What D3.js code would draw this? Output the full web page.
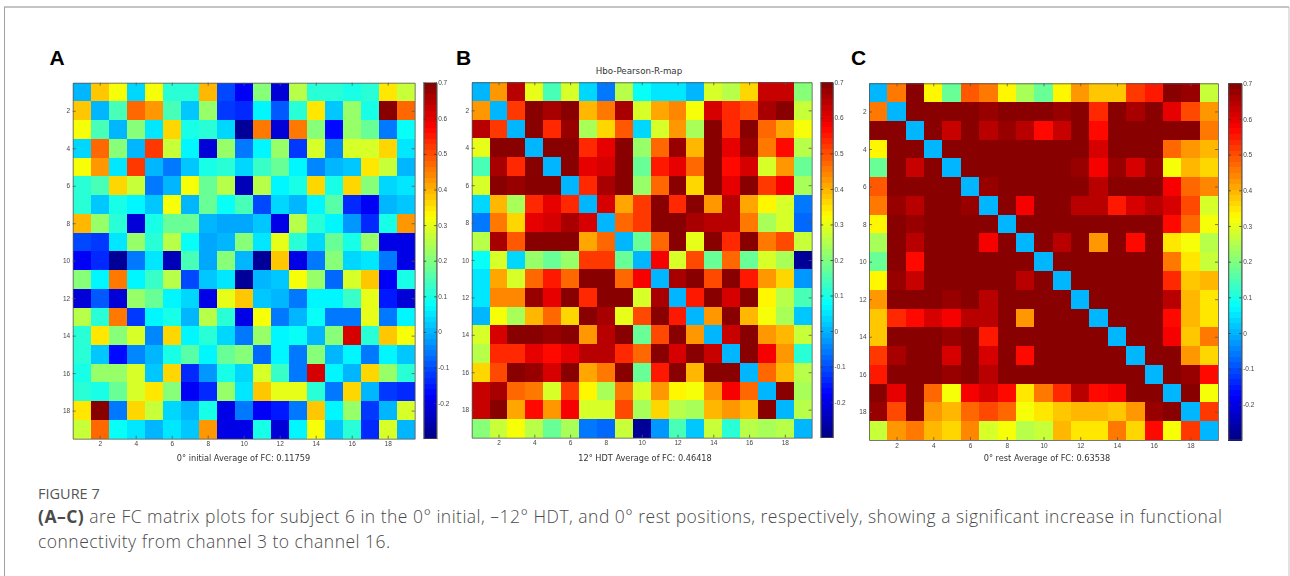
<!DOCTYPE html>
<html>
<head>
<meta charset="utf-8">
<title>FC matrix plots</title>
<script src="https://cdn.jsdelivr.net/npm/d3@7"></script>
<style>
  html, body { margin: 0; background: #fff; }
  svg { display: block; }
  .tick text { font-family: "Liberation Sans", sans-serif; font-size: 6.5px; fill: #444; }
  .tick line, .domain { stroke: #555; stroke-width: 0.8; }
  .cbticks .tick line { stroke: #333; }
  .plotlabel { font-family: "DejaVu Sans", sans-serif; font-size: 8.2px; fill: #333; text-anchor: middle; }
  .letter { font-family: "Liberation Sans", sans-serif; font-weight: bold; font-size: 21px; fill: #000; }
  .caption { font-family: "Open Sans", sans-serif; font-weight: 300; fill: #4a4a4a; }
</style>
</head>
<body>
<svg width="1290" height="576"></svg>
<script>
const ticks = [2, 4, 6, 8, 10, 12, 14, 16, 18];
const cbTicks = [-0.2, -0.1, 0, 0.1, 0.2, 0.3, 0.4, 0.5, 0.6, 0.7];

// values, row 1 at the top
const matrixA = [
  [0,.38,.31,.03,.31,.11,.11,.4,-.11,-.18,.2,-.21,.25,.11,.12,.1,.11,.35,.27],
  [.38,0,.14,.48,.43,.14,.02,.23,-.12,-.14,.06,-.09,.12,.35,.02,.23,.1,.7,.48],
  [.31,.14,0,.2,.05,.36,.1,.11,.04,-.28,.45,-.22,.46,.2,-.16,.22,.17,-.05,.09],
  [.03,.48,.2,0,.52,.27,.07,-.22,.22,-.06,.07,.22,-.12,.28,-.04,.29,.29,.37,.05],
  [.31,.43,.05,.52,0,-.06,.02,.1,.11,.04,.13,.17,.07,-.04,0,.02,.35,.27,0],
  [.11,.14,.36,.27,-.06,0,.31,.18,.26,-.24,.26,.06,.1,.37,.1,.37,.2,.04,.05],
  [.11,.02,.1,.07,.02,.31,0,.17,.08,.14,-.1,.03,0,.07,.16,-.13,-.19,0,.02],
  [.4,.23,.11,-.22,.1,.18,.17,0,-.01,-.01,.02,-.2,.26,.11,.06,-.03,-.13,.1,.42],
  [-.11,-.12,.05,.22,.11,.26,.08,-.01,0,.2,.05,.3,.11,.03,.18,.1,.22,-.2,-.2],
  [-.18,-.14,-.28,-.06,.05,-.24,.14,-.01,.2,0,-.28,.38,-.2,-.06,.2,.03,.05,-.06,-.2],
  [.2,.06,.45,.07,.13,.26,-.1,.02,.05,-.28,0,.02,.32,.23,-.07,.29,.38,-.19,.1],
  [-.21,-.09,-.22,.22,.17,.06,.03,-.2,.3,.38,.02,0,-.06,.07,.07,.13,.3,-.15,-.22],
  [.25,.12,.46,-.12,.07,.1,0,.26,.11,-.2,.32,-.06,0,.08,-.06,-.05,.3,-.05,.06],
  [.11,.35,.2,.28,-.04,.37,.07,.11,.03,-.06,.23,.07,.08,0,.2,.62,.11,.38,.31],
  [.12,.02,-.16,-.04,0,.1,.16,.06,.18,.2,-.07,.07,-.06,.2,0,.06,-.06,.06,.02],
  [.1,.23,.22,.29,.02,.37,-.13,-.03,.1,.03,.29,.13,-.05,.62,.06,0,.37,.22,.12],
  [.11,.1,.17,.29,.35,.2,-.19,-.13,.22,.05,.38,.3,.3,.11,-.06,.37,0,-.12,-.14],
  [.35,.7,-.05,.37,.27,.04,0,.1,-.2,-.06,-.19,-.15,-.05,.38,.06,.22,-.12,0,.28],
  [.27,.48,.09,.05,0,.05,.02,.42,-.2,-.2,.1,-.22,.06,.31,.02,.12,-.14,.28,0]
];

const matrixB = [
  [0,.43,.65,.3,.15,.29,.03,-.05,.25,.08,.05,.05,0,.28,.26,.36,.63,.63,.2],
  [.43,0,.52,.69,.66,.69,.39,.45,.66,.28,.41,.44,.32,.62,.54,.5,.66,.7,.27],
  [.65,.52,0,.69,.54,.68,.24,.36,.49,.03,.29,.43,.24,.69,.54,.69,.47,.41,.32],
  [.3,.69,.69,0,.69,.69,.54,.6,.69,.22,.48,.67,.4,.69,.6,.68,.46,.56,.25],
  [.15,.66,.54,.69,0,.69,.6,.61,.69,.17,.55,.6,.47,.69,.57,.61,.29,.42,.17],
  [.29,.69,.68,.69,.69,0,.54,.66,.69,.23,.47,.69,.36,.69,.6,.69,.52,.58,.24],
  [.03,.39,.24,.54,.6,.54,0,.62,.41,.52,.69,.53,.69,.42,.65,.41,.33,.29,-.06],
  [-.05,.45,.36,.6,.61,.66,.62,0,.48,.52,.69,.69,.66,.64,.64,.46,.24,.29,-.07],
  [.25,.66,.49,.69,.69,.69,.41,.48,0,.18,.47,.69,.3,.69,.54,.69,.46,.5,.27],
  [.08,.28,.03,.22,.17,.23,.52,.52,.18,0,.58,.28,.5,.18,.47,.17,.28,.24,-.28],
  [.05,.41,.29,.48,.55,.47,.69,.69,.47,.58,0,.66,.69,.5,.69,.55,.43,.36,-.02],
  [.05,.44,.44,.67,.6,.69,.53,.69,.69,.28,.66,0,.55,.69,.62,.69,.34,.25,.15],
  [0,.32,.24,.4,.47,.36,.69,.66,.3,.5,.69,.55,0,.43,.69,.4,.32,.24,.02],
  [.28,.62,.69,.69,.68,.69,.42,.64,.69,.18,.5,.69,.43,0,.63,.69,.42,.4,.27],
  [.26,.54,.54,.6,.57,.6,.65,.64,.54,.47,.69,.62,.69,.63,0,.69,.58,.43,.11],
  [.36,.5,.69,.68,.61,.69,.41,.46,.69,.17,.55,.69,.4,.69,.69,0,.48,.39,.26],
  [.63,.66,.47,.46,.29,.52,.33,.24,.46,.28,.43,.34,.32,.42,.58,.48,0,.7,.24],
  [.63,.7,.41,.56,.42,.58,.29,.29,.5,.24,.36,.25,.24,.4,.43,.39,.7,0,.26],
  [.2,.27,.32,.25,.17,.24,-.06,-.07,.27,-.28,-.02,.15,.02,.27,.11,.26,.24,.26,0]
];

const matrixC = [
  [0,.46,.7,.33,.18,.49,.45,.33,.24,.18,.33,.42,.38,.38,.52,.55,.7,.68,.27],
  [.46,0,.7,.7,.7,.7,.68,.7,.7,.7,.68,.7,.53,.7,.66,.7,.6,.5,.42],
  [.7,.7,0,.7,.63,.7,.65,.67,.65,.56,.63,.7,.56,.7,.7,.7,.7,.7,.45],
  [.33,.7,.7,0,.7,.7,.7,.7,.7,.7,.7,.7,.62,.7,.7,.7,.47,.42,.4],
  [.18,.7,.63,.7,0,.7,.7,.7,.7,.7,.7,.67,.58,.68,.62,.68,.31,.4,.37],
  [.49,.7,.7,.7,.7,0,.68,.7,.7,.7,.7,.7,.64,.7,.7,.7,.58,.47,.44],
  [.45,.68,.65,.7,.7,.68,0,.7,.58,.7,.7,.65,.64,.55,.62,.64,.61,.5,.29],
  [.33,.69,.67,.7,.7,.7,.7,0,.7,.7,.7,.7,.7,.7,.7,.7,.56,.47,.32],
  [.24,.69,.65,.7,.7,.7,.58,.7,0,.7,.65,.7,.43,.7,.56,.7,.35,.32,.26],
  [.18,.69,.56,.7,.7,.7,.7,.7,.7,0,.7,.7,.7,.7,.7,.7,.45,.35,.27],
  [.33,.68,.63,.7,.7,.7,.7,.7,.65,.7,0,.7,.7,.7,.7,.7,.53,.38,.4],
  [.42,.7,.7,.7,.67,.7,.65,.7,.7,.7,.7,0,.7,.7,.7,.7,.65,.39,.35],
  [.38,.53,.56,.62,.58,.64,.64,.7,.43,.7,.7,.7,0,.7,.7,.7,.56,.39,.35],
  [.38,.7,.7,.7,.68,.7,.55,.7,.7,.7,.7,.7,.7,0,.7,.7,.59,.38,.46],
  [.52,.66,.7,.7,.62,.7,.62,.7,.56,.7,.7,.7,.7,.7,0,.7,.7,.42,.36],
  [.55,.7,.7,.7,.68,.7,.64,.7,.7,.7,.7,.7,.7,.7,.7,0,.7,.68,.57],
  [.7,.6,.7,.47,.31,.58,.61,.56,.35,.45,.53,.65,.56,.59,.7,.7,0,.69,.32],
  [.68,.5,.7,.42,.4,.47,.5,.47,.32,.35,.38,.39,.39,.38,.42,.68,.69,0,.52],
  [.27,.42,.45,.4,.37,.44,.29,.32,.26,.27,.4,.35,.35,.46,.36,.57,.32,.52,0]
];

const svg = d3.select("svg");

// matlab jet, 64 steps between -0.3 and 0.7
const jetStops = d3.scaleLinear()
  .domain([0, 0.125, 0.375, 0.625, 0.875, 1])
  .range(["#000080", "#0000ff", "#00ffff", "#ffff00", "#ff0000", "#800000"]);
const jet = d3.range(64).map(i => jetStops((i + 0.5) / 64));
const colorScale = d3.scaleQuantize().domain([-0.3, 0.7]).range(jet);

// card outline, it is open at the bottom
svg.append("line").attr("x1", 4).attr("x2", 1289).attr("y1", 7).attr("y2", 7).attr("stroke", "#c4c4c4").attr("stroke-width", 2);
svg.append("line").attr("x1", 4.5).attr("x2", 4.5).attr("y1", 7).attr("y2", 576).attr("stroke", "#a0a0a0");
svg.append("line").attr("x1", 1289).attr("x2", 1289).attr("y1", 7).attr("y2", 576).attr("stroke", "#c4c4c4");

const drawPanel = (p) => {
  const g = svg.append("g").style("filter", "blur(0.35px)");
  const x = d3.scaleLinear().domain([0.5, 19.5]).range([p.left, p.right]);
  const y = d3.scaleLinear().domain([0.5, 19.5]).range([p.top, p.bottom]);

  // cells
  p.matrix.forEach((row, i) => {
    g.append("g").selectAll("rect")
      .data(row)
      .enter().append("rect")
        .attr("x", (d, j) => x(j + 0.5))
        .attr("y", y(i + 0.5))
        .attr("width", (d, j) => x(j + 1.5) - x(j + 0.5))
        .attr("height", y(i + 1.5) - y(i + 0.5))
        .attr("fill", d => colorScale(d))
        .attr("shape-rendering", "crispEdges");
  });

  // box with inward ticks on all four sides
  g.append("g").attr("transform", `translate(0,${p.bottom})`)
    .call(d3.axisBottom(x).tickValues(ticks).tickSizeInner(-3).tickSizeOuter(0).tickPadding(3));
  g.append("g").attr("transform", `translate(0,${p.top})`)
    .call(d3.axisTop(x).tickValues(ticks).tickSizeInner(-3).tickSizeOuter(0).tickFormat(""));
  g.append("g").attr("transform", `translate(${p.left},0)`)
    .call(d3.axisLeft(y).tickValues(ticks).tickSizeInner(-3).tickSizeOuter(0).tickPadding(2.5));
  g.append("g").attr("transform", `translate(${p.right},0)`)
    .call(d3.axisRight(y).tickValues(ticks).tickSizeInner(-3).tickSizeOuter(0).tickFormat(""));

  // colorbar
  const cb = d3.scaleLinear().domain([-0.3, 0.7]).range([p.bottom, p.top]);
  g.append("g").selectAll("rect")
    .data(jet)
    .enter().append("rect")
      .attr("x", p.cbLeft)
      .attr("width", p.cbRight - p.cbLeft)
      .attr("y", (d, i) => cb(-0.3 + (i + 1) / 64))
      .attr("height", (p.bottom - p.top) / 64 + 0.5)
      .attr("fill", d => d)
      .attr("shape-rendering", "crispEdges");
  g.append("g").attr("class", "cbticks").attr("transform", `translate(${p.cbRight},0)`)
    .call(d3.axisRight(cb).tickValues(cbTicks).tickFormat(d => String(d)).tickSizeInner(-2.5).tickSizeOuter(0).tickPadding(1.5));
  g.append("g").attr("class", "cbticks").attr("transform", `translate(${p.cbLeft},0)`)
    .call(d3.axisLeft(cb).tickValues(cbTicks).tickSizeInner(-2.5).tickSizeOuter(0).tickFormat(""));
  g.append("rect")
    .attr("x", p.cbLeft).attr("y", p.top)
    .attr("width", p.cbRight - p.cbLeft).attr("height", p.bottom - p.top)
    .attr("fill", "none").attr("stroke", "#555").attr("stroke-width", 0.6);

  g.append("text").attr("class", "plotlabel")
    .attr("x", p.labelX).attr("y", 460.5)
    .text(p.label);

  svg.append("text").attr("class", "letter")
    .attr("x", p.letterX).attr("y", 65)
    .text(p.letter);
};

drawPanel({ matrix: matrixA, letter: "A", letterX: 49.5, left: 72.7, right: 414.7, top: 82.7, bottom: 438.7,
  cbLeft: 423.7, cbRight: 436.7, labelX: 243.5, label: "0° initial Average of FC: 0.11759" });
drawPanel({ matrix: matrixB, letter: "B", letterX: 456, left: 471.7, right: 811.7, top: 82.3, bottom: 437.7,
  cbLeft: 820.7, cbRight: 833, labelX: 645, label: "12° HDT Average of FC: 0.46418" });
drawPanel({ matrix: matrixC, letter: "C", letterX: 851, left: 869, right: 1218, top: 83.3, bottom: 440,
  cbLeft: 1228.3, cbRight: 1241.7, labelX: 1047, label: "0° rest Average of FC: 0.63538" });

svg.append("text").attr("class", "plotlabel")
  .attr("x", 639).attr("y", 74)
  .style("font-size", "8.7px")
  .text("Hbo-Pearson-R-map");

// caption
svg.append("text").attr("class", "caption")
  .attr("x", 38).attr("y", 499)
  .style("font-size", "14.5px").style("font-weight", 500).style("fill", "#555")
  .text("FIGURE 7");

const line1 = svg.append("text").attr("class", "caption")
  .attr("x", 38).attr("y", 523)
  .style("font-size", "17.5px").style("letter-spacing", "0.48px");
line1.append("tspan").style("font-weight", 700).text("(A–C)");
line1.append("tspan").text(" are FC matrix plots for subject 6 in the 0° initial, –12° HDT, and 0° rest positions, respectively, showing a significant increase in functional");

svg.append("text").attr("class", "caption")
  .attr("x", 38).attr("y", 547.5)
  .style("font-size", "17.5px").style("letter-spacing", "0.48px")
  .text("connectivity from channel 3 to channel 16.");
</script>
</body>
</html>
